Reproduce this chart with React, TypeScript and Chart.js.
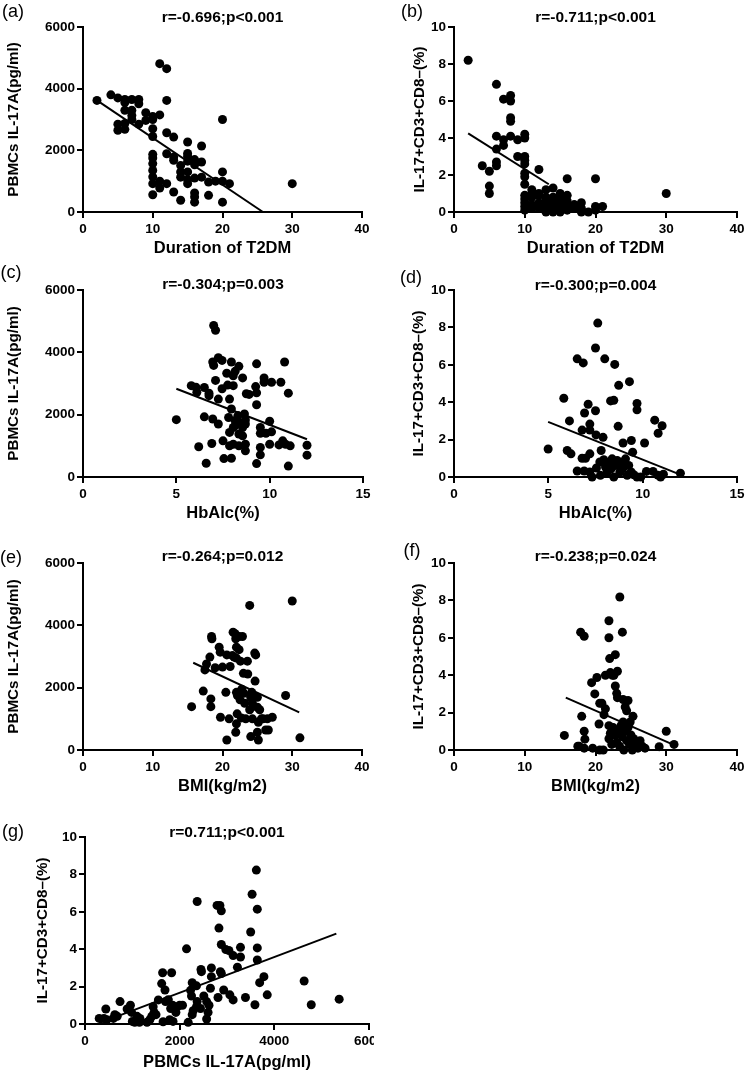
import { useEffect, useRef } from 'react'
import { Chart, registerables } from 'chart.js'

Chart.register(...registerables)

const FONT = '"Liberation Sans", Arial, sans-serif'

// (a) duration of T2DM vs PBMCs IL-17A
const aDuration = [2, 4, 5, 5, 5, 6, 6, 6, 6, 6, 7, 7, 7, 7, 8, 8, 8, 9, 9, 10, 10, 10, 10, 10, 10, 10, 10, 10, 10, 10, 11, 12, 12, 11, 12, 13, 12, 11, 11, 12, 13, 13, 13, 14, 14, 14, 14, 15, 15, 15, 15, 15, 15, 15, 16, 16, 16, 16, 16, 16, 17, 17, 17, 18, 18, 19, 20, 20, 20, 20, 21, 30]
const aIL17A = [3620, 3800, 3700, 2850, 2650, 3650, 3550, 3300, 2870, 2680, 3650, 3300, 3130, 3000, 3650, 3510, 2850, 3220, 2970, 3100, 3000, 2700, 2450, 1870, 1750, 1570, 1350, 1140, 920, 560, 4810, 4650, 3620, 3150, 2570, 2430, 1890, 1000, 780, 920, 1780, 1680, 650, 1510, 1300, 1130, 380, 2270, 1900, 1800, 1650, 1300, 1050, 920, 1700, 1530, 1100, 620, 490, 320, 2140, 1620, 1130, 970, 540, 1000, 3000, 1300, 1000, 320, 920, 920]
const aFitX = [2, 25.8]
const aFitY = [3620, 0]

// (b) duration of T2DM vs IL-17+CD3+CD8- (%)
const bDuration = [2, 4, 5, 5, 5, 6, 6, 6, 6, 6, 7, 7, 7, 8, 8, 8, 8, 8, 9, 9, 10, 10, 10, 10, 10, 10, 10, 10, 10, 10, 10, 10, 10, 11, 11, 11, 11, 11, 12, 12, 12, 12, 12, 12, 13, 13, 13, 13, 13, 14, 14, 14, 14, 14, 15, 15, 15, 15, 15, 16, 16, 16, 16, 16, 17, 17, 18, 18, 18, 19, 20, 20, 20, 21, 30]
const bPercent = [8.2, 2.5, 2.2, 1.4, 1.0, 6.9, 4.1, 3.4, 2.7, 2.5, 6.1, 3.9, 3.6, 6.3, 6.0, 5.1, 4.9, 4.1, 3.9, 3.0, 4.2, 4.0, 3.0, 2.8, 2.6, 2.1, 1.9, 1.5, 0.9, 0.7, 0.5, 0.3, 0.1, 1.2, 1.0, 0.8, 0.4, 0.2, 2.3, 1.0, 0.9, 0.5, 0.3, 0.2, 1.2, 0.8, 0.6, 0.3, 0.0, 1.3, 0.8, 0.5, 0.2, 0.0, 1.0, 0.7, 0.4, 0.2, 0.0, 1.8, 0.9, 0.6, 0.3, 0.1, 0.4, 0.2, 0.5, 0.2, 0.0, 0.0, 1.8, 0.3, 0.1, 0.3, 1.0]
const bFitX = [2, 13.4]
const bFitY = [4.25, 1.5]

// (c) HbA1c vs PBMCs IL-17A
const cHbA1c = [5.0, 5.8, 6.05, 6.1, 6.2, 6.5, 6.6, 6.5, 6.75, 6.75, 6.9, 6.95, 7.0, 7.1, 6.95, 7.0, 7.1, 7.25, 7.25, 7.25, 7.45, 7.5, 7.45, 7.55, 7.7, 7.75, 7.8, 7.85, 7.85, 7.95, 7.85, 8.05, 7.95, 8.05, 8.05, 8.15, 8.05, 8.15, 8.15, 7.95, 8.35, 8.3, 8.35, 8.35, 8.35, 8.55, 8.55, 8.55, 8.65, 8.7, 8.7, 8.7, 8.7, 8.75, 8.9, 9.3, 9.25, 9.3, 9.3, 9.3, 9.5, 9.5, 9.5, 9.5, 9.7, 9.7, 10.1, 10.0, 10.0, 9.8, 10.1, 10.6, 10.8, 10.5, 10.7, 10.85, 11.0, 11.1, 11.0, 12.0, 12.0]
const cIL17A = [1840, 2930, 2880, 2720, 970, 1930, 440, 2870, 2690, 2610, 1075, 1860, 4860, 4710, 3690, 3580, 3100, 3830, 2500, 1700, 3740, 1160, 2830, 590, 3330, 2950, 1910, 1430, 1000, 3690, 2500, 3250, 2180, 1590, 1050, 3390, 2930, 1810, 1650, 600, 3550, 1970, 1750, 1380, 1000, 3180, 1590, 1320, 2020, 1830, 1700, 1050, 840, 2670, 2650, 3630, 2900, 2700, 2320, 430, 1590, 1400, 950, 710, 3180, 3040, 3040, 1790, 1050, 1400, 1450, 3040, 3690, 1030, 1160, 1050, 2690, 1000, 350, 1020, 700]
const cFitX = [5, 12]
const cFitY = [2830, 1210]

// (d) HbA1c vs IL-17+CD3+CD8- (%)
const dHbA1c = [4.99, 5.82, 6.0, 6.2, 6.12, 6.53, 6.85, 6.53, 6.9, 6.79, 6.79, 6.97, 6.92, 7.62, 7.5, 7.99, 8.52, 9.3, 8.73, 8.3, 8.47, 7.11, 9.7, 9.7, 7.5, 10.64, 11.03, 10.82, 7.2, 8.7, 7.2, 7.53, 7.9, 9.4, 8.96, 10.1, 7.8, 7.2, 9.47, 7.2, 7.32, 7.55, 7.73, 7.76, 7.94, 8.03, 8.12, 8.21, 8.33, 8.38, 8.47, 8.56, 8.65, 8.79, 8.86, 8.96, 9.09, 9.18, 9.26, 9.39, 9.53, 9.7, 9.9, 10.2, 10.55, 10.8, 10.95, 11.1, 12.0]
const dPercent = [1.5, 4.21, 1.42, 1.24, 3.0, 6.32, 6.1, 0.32, 0.32, 2.51, 1.0, 1.0, 3.42, 8.23, 6.9, 6.32, 6.02, 5.1, 4.9, 4.07, 4.1, 3.89, 3.93, 3.59, 3.54, 3.04, 2.74, 2.34, 2.83, 2.71, 2.51, 2.25, 2.12, 1.95, 1.82, 1.82, 1.42, 1.24, 1.33, 0.27, 0.0, 0.48, 0.8, 0.09, 0.92, 0.53, 0.27, 0.76, 0.44, 0.97, 0.0, 0.62, 0.88, 0.27, 0.76, 0.48, 0.97, 0.09, 0.62, 0.27, 0.12, 0.0, 0.0, 0.3, 0.3, 0.1, 0.0, 0.15, 0.2]
const dFitX = [4.99, 11.86]
const dFitY = [2.95, 0.18]

// (e) BMI vs PBMCs IL-17A
const eBMI = [30.0, 23.9, 15.57, 17.24, 17.48, 17.71, 18.19, 18.43, 18.48, 18.33, 18.33, 18.95, 19.52, 19.67, 19.71, 20.0, 20.48, 20.62, 20.62, 20.95, 21.1, 21.43, 21.52, 21.81, 21.67, 21.9, 22.0, 22.0, 22.0, 22.14, 22.1, 22.0, 21.9, 22.38, 22.86, 22.38, 22.57, 22.52, 22.76, 22.71, 23.0, 23.05, 23.19, 23.33, 23.62, 23.57, 23.9, 24.05, 24.05, 24.29, 24.29, 24.67, 24.62, 24.76, 25.0, 25.0, 25.14, 25.0, 25.14, 25.33, 25.57, 25.81, 26.19, 26.57, 26.43, 27.14, 29.05, 31.1, 24.2]
const eIL17A = [4780, 4640, 1390, 1890, 2570, 2760, 2980, 3640, 3570, 1640, 1390, 2640, 3300, 3140, 1050, 2660, 1850, 320, 3050, 1000, 2680, 3030, 3780, 3730, 2980, 3570, 3300, 2950, 1850, 1750, 1160, 840, 570, 3640, 3640, 3220, 2850, 1610, 1950, 1030, 2460, 1820, 1500, 1000, 2440, 2850, 1290, 1690, 430, 1500, 1000, 2210, 3110, 3050, 1690, 1370, 890, 570, 320, 1290, 1000, 1000, 640, 640, 1000, 1050, 1750, 390, 1850]
const eFitX = [15.8, 31]
const eFitY = [2800, 1210]

// (f) BMI vs IL-17+CD3+CD8- (%)
const fBMI = [23.44, 21.9, 17.9, 18.4, 21.9, 23.8, 22.8, 22.0, 21.4, 22.1, 22.4, 23.1, 22.6, 19.45, 20.2, 19.9, 22.8, 23.0, 23.1, 23.9, 24.2, 24.6, 20.6, 20.9, 21.4, 21.2, 24.4, 25.3, 24.9, 18.05, 20.5, 21.9, 22.1, 21.9, 18.4, 18.5, 17.5, 17.7, 15.6, 18.4, 19.6, 20.6, 21.1, 30.0, 31.1, 29.0, 22.5, 22.8, 23.0, 23.2, 23.4, 23.6, 23.8, 24.0, 24.2, 24.4, 24.6, 24.8, 25.0, 25.2, 25.4, 25.6, 26.0, 26.3, 26.6, 27.0, 22.3, 23.9]
const fPercent = [8.18, 6.91, 6.3, 6.08, 6.0, 6.3, 5.1, 4.89, 4.0, 4.14, 4.0, 4.21, 4.0, 3.6, 3.88, 3.0, 3.42, 3.03, 2.8, 2.7, 2.3, 2.65, 2.5, 2.5, 2.2, 1.89, 2.1, 1.8, 1.5, 1.8, 1.39, 1.3, 0.9, 0.6, 1.0, 0.58, 0.2, 0.2, 0.78, 0.1, 0.1, 0.0, 0.0, 1.0, 0.3, 0.18, 1.2, 0.8, 0.4, 1.0, 0.2, 1.3, 0.7, 0.0, 1.0, 0.5, 1.2, 0.3, 0.8, 0.0, 0.6, 0.3, 0.1, 0.5, 0.2, 0.1, 0.3, 1.5]
const fFitX = [15.8, 30.9]
const fFitY = [2.8, 0.3]

// (g) PBMCs IL-17A vs IL-17+CD3+CD8- (%)
const gIL17A = [3620, 3530, 2370, 2790, 2850, 2880, 3640, 2830, 3500, 2145, 2880, 2975, 3040, 3130, 3285, 3285, 3640, 3640, 3220, 2670, 2860, 2880, 2450, 2460, 1640, 1830, 1620, 1690, 2265, 2355, 2230, 2670, 2930, 3060, 3130, 3390, 3690, 3780, 3850, 3590, 4630, 4780, 5370, 2810, 2650, 2510, 2570, 2600, 2570, 2620, 2440, 2370, 2250, 2285, 2265, 2355, 2060, 2180, 1550, 1700, 1760, 1810, 1850, 1920, 1950, 1790, 1860, 1650, 1440, 1460, 1410, 1370, 1310, 1160, 1100, 1050, 1000, 960, 890, 985, 740, 680, 630, 600, 440, 400, 300, 460, 1120, 1150, 1500, 2000]
const gPercent = [8.23, 6.94, 6.55, 6.34, 6.34, 6.05, 6.14, 5.13, 4.92, 4.02, 4.25, 3.98, 3.93, 3.66, 4.1, 3.58, 4.07, 3.42, 3.04, 3.0, 2.8, 2.7, 2.92, 2.8, 2.74, 2.74, 2.16, 1.82, 2.21, 2.04, 1.8, 2.53, 1.82, 1.56, 1.29, 1.42, 2.21, 2.53, 1.56, 1.03, 2.3, 1.03, 1.33, 1.42, 1.91, 1.5, 1.2, 0.62, 0.27, 1.0, 0.83, 1.2, 1.5, 0.71, 0.5, 0.92, 1.0, 0.09, 1.29, 1.2, 1.3, 0.83, 1.0, 0.62, 0.92, 0.23, 0.14, 0.12, 0.92, 0.62, 0.41, 0.23, 0.09, 0.3, 0.41, 0.09, 0.14, 1.0, 0.8, 0.62, 1.2, 0.41, 0.5, 0.3, 0.8, 0.3, 0.3, 0.23, 0.3, 0.09, 0.5, 1.0]
const gFitX = [300, 5310]
const gFitY = [0.05, 4.83]

const IL17A_TITLE = 'PBMCs IL-17A(pg/ml)'
const PERCENT_TITLE = 'IL-17+CD3+CD8–(%)'

interface PanelProps {
  tag: string
  stat: string
  xs: number[]
  ys: number[]
  fitX: number[]
  fitY: number[]
  xMax: number
  xStep: number
  yMax: number
  yStep: number
  xTitle: string
  yTitle: string
  left: number
  top: number
  height: number
  plotBottom: number
  yAxisW: number
  padRight: number
  yTitleX: number
  tagX: number
  tagY: number
  statGap: number
}

function Panel(p: PanelProps) {
  const canvasRef = useRef<HTMLCanvasElement>(null)
  const canvasH = p.height

  useEffect(() => {
    if (!canvasRef.current) return
    const points = p.xs.map((x, i) => ({ x, y: p.ys[i] }))
    const fit = p.fitX.map((x, i) => ({ x, y: p.fitY[i] }))
    const xAxisH = canvasH - p.plotBottom

    // r/p text over the plot area and the panel letter
    const labels = {
      id: 'panelLabels',
      afterDraw(chart: Chart) {
        const { ctx, chartArea } = chart
        ctx.save()
        ctx.fillStyle = '#000'
        ctx.textAlign = 'center'
        ctx.textBaseline = 'middle'
        ctx.font = `bold 15.5px ${FONT}`
        ctx.fillText(p.stat, (chartArea.left + chartArea.right) / 2, chartArea.top - p.statGap)
        ctx.font = `18px ${FONT}`
        ctx.fillText(p.tag, p.tagX, p.tagY)
        ctx.restore()
      },
    }

    const tickFont = { family: FONT, size: 13.5, weight: 'bold' as const }

    const chart = new Chart(canvasRef.current, {
      type: 'scatter',
      data: {
        datasets: [
          {
            data: points,
            pointRadius: 4.5,
            pointBackgroundColor: '#000',
            pointBorderColor: '#000',
            pointBorderWidth: 0,
            clip: false,
          },
          {
            data: fit,
            showLine: true,
            borderColor: '#000',
            borderWidth: 2,
            pointRadius: 0,
            fill: false,
            clip: false,
          },
        ],
      },
      options: {
        responsive: false,
        animation: false,
        layout: { padding: { top: 27, right: p.padRight, bottom: 0, left: 0 } },
        plugins: {
          legend: { display: false },
          tooltip: { enabled: false },
        },
        scales: {
          x: {
            type: 'linear',
            min: 0,
            max: p.xMax,
            ticks: { stepSize: p.xStep, color: '#000', font: tickFont, padding: 3, callback: (v) => String(v) },
            grid: { display: true, drawOnChartArea: false, drawTicks: true, tickLength: 6, color: '#000', lineWidth: 2 },
            border: { display: true, color: '#000', width: 2 },
            title: {
              display: true,
              text: p.xTitle,
              color: '#000',
              font: { family: FONT, size: 16.5, weight: 'bold' },
              padding: { top: 0, bottom: 2 },
            },
            afterFit: (s: any) => {
              s.height = xAxisH
              s.paddingLeft = 0
              s.paddingRight = 0
            },
          },
          y: {
            type: 'linear',
            min: 0,
            max: p.yMax,
            ticks: { stepSize: p.yStep, color: '#000', font: tickFont, padding: 2, callback: (v) => String(v) },
            grid: { display: true, drawOnChartArea: false, drawTicks: true, tickLength: 6, color: '#000', lineWidth: 2 },
            border: { display: true, color: '#000', width: 2 },
            title: {
              display: true,
              text: p.yTitle,
              color: '#000',
              font: { family: FONT, size: 15.2, weight: 'bold' },
              padding: { top: p.yTitleX - 9.1, bottom: 0 },
            },
            afterFit: (s: any) => {
              s.width = p.yAxisW
              s.paddingTop = 0
              s.paddingBottom = 0
            },
          },
        },
      },
      plugins: [labels],
    })

    return () => {
      chart.destroy()
    }
  }, [])

  return (
    <div style={{ position: 'absolute', left: p.left, top: p.top, width: 374, height: Math.min(canvasH, 1072 - p.top), overflow: 'hidden' }}>
      <canvas ref={canvasRef} width={374} height={canvasH} style={{ width: 374, height: canvasH, display: 'block' }} />
    </div>
  )
}

export default function App() {
  return (
    <div style={{ position: 'absolute', left: 0, top: 0, width: 748, height: 1072, background: '#fff', overflow: 'hidden' }}>
      <Panel tag="(a)" stat="r=-0.696;p<0.001" xs={aDuration} ys={aIL17A} fitX={aFitX} fitY={aFitY}
        xMax={40} xStep={10} yMax={6000} yStep={2000} xTitle="Duration of T2DM" yTitle={IL17A_TITLE}
        left={0} top={0} height={260} plotBottom={212} yAxisW={83} padRight={12} yTitleX={14} tagX={13} tagY={12} statGap={9} />
      <Panel tag="(b)" stat="r=-0.711;p<0.001" xs={bDuration} ys={bPercent} fitX={bFitX} fitY={bFitY}
        xMax={40} xStep={10} yMax={10} yStep={2} xTitle="Duration of T2DM" yTitle={PERCENT_TITLE}
        left={374} top={0} height={260} plotBottom={212} yAxisW={80} padRight={11} yTitleX={46} tagX={38} tagY={12} statGap={9} />
      <Panel tag="(c)" stat="r=-0.304;p=0.003" xs={cHbA1c} ys={cIL17A} fitX={cFitX} fitY={cFitY}
        xMax={15} xStep={5} yMax={6000} yStep={2000} xTitle="HbAlc(%)" yTitle={IL17A_TITLE}
        left={0} top={263} height={262} plotBottom={214} yAxisW={83} padRight={11} yTitleX={14} tagX={11} tagY={10} statGap={5} />
      <Panel tag="(d)" stat="r=-0.300;p=0.004" xs={dHbA1c} ys={dPercent} fitX={dFitX} fitY={dFitY}
        xMax={15} xStep={5} yMax={10} yStep={2} xTitle="HbAlc(%)" yTitle={PERCENT_TITLE}
        left={374} top={263} height={262} plotBottom={214} yAxisW={80} padRight={11} yTitleX={45} tagX={37} tagY={15} statGap={4} />
      <Panel tag="(e)" stat="r=-0.264;p=0.012" xs={eBMI} ys={eIL17A} fitX={eFitX} fitY={eFitY}
        xMax={40} xStep={10} yMax={6000} yStep={2000} xTitle="BMI(kg/m2)" yTitle={IL17A_TITLE}
        left={0} top={536} height={262} plotBottom={214} yAxisW={83} padRight={12} yTitleX={14} tagX={11} tagY={22} statGap={6} />
      <Panel tag="(f)" stat="r=-0.238;p=0.024" xs={fBMI} ys={fPercent} fitX={fFitX} fitY={fFitY}
        xMax={40} xStep={10} yMax={10} yStep={2} xTitle="BMI(kg/m2)" yTitle={PERCENT_TITLE}
        left={374} top={536} height={262} plotBottom={214} yAxisW={80} padRight={11} yTitleX={45} tagX={38} tagY={15} statGap={6} />
      <Panel tag="(g)" stat="r=0.711;p<0.001" xs={gIL17A} ys={gPercent} fitX={gFitX} fitY={gFitY}
        xMax={6000} xStep={2000} yMax={10} yStep={2} xTitle="PBMCs IL-17A(pg/ml)" yTitle={PERCENT_TITLE}
        left={0} top={810} height={264} plotBottom={214} yAxisW={85} padRight={5} yTitleX={43} tagX={13} tagY={22} statGap={4} />
    </div>
  )
}
